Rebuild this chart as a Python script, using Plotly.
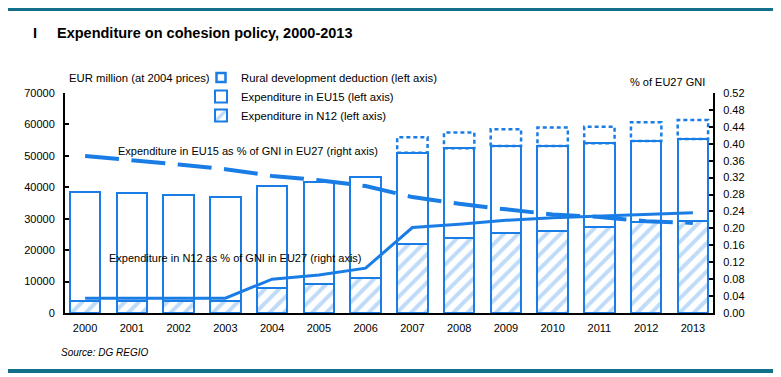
import plotly.graph_objects as go

years = ["2000", "2001", "2002", "2003", "2004", "2005", "2006",
         "2007", "2008", "2009", "2010", "2011", "2012", "2013"]
n12_exp = [3800, 3700, 3700, 3700, 8100, 9200, 11000,
           22000, 23800, 25300, 26100, 27300, 28900, 29300]
eu15_exp = [34800, 34600, 33900, 33300, 32300, 32500, 32400,
            29000, 28600, 27800, 27000, 26700, 25800, 26100]
rural_deduction = [0, 0, 0, 0, 0, 0, 0,
                   4900, 5000, 5400, 5900, 5300, 6000, 6000]
eu15_pct_gni = [0.371, 0.362, 0.351, 0.340, 0.324, 0.314, 0.300,
                0.274, 0.258, 0.245, 0.233, 0.227, 0.217, 0.213]
n12_pct_gni = [0.035, 0.035, 0.035, 0.035, 0.080, 0.090, 0.106,
               0.202, 0.210, 0.219, 0.225, 0.229, 0.233, 0.237]
left_ticks = [0, 10000, 20000, 30000, 40000, 50000, 60000, 70000]
right_ticks = [i * 0.04 for i in range(14)]

BLUE = "#1a7de6"
LIGHT = "#7fb8ef"
TEAL = "#13708a"
FONT = "Liberation Sans"
BW = 0.65

xpos = list(range(len(years)))

# the page body adds an 8px margin; lay out in page pixels and compensate
OFF = 8
FW, FH = 781 - OFF, 377 - OFF
L, R, T, B = 65, 713, 93, 313          # plot area in page pixels
W, H = R - L, B - T
def px(x):
    return (x - L) / W
def py(y):
    return (B - y) / H

fig = go.Figure()

fig.add_trace(go.Bar(
    x=xpos, y=n12_exp, name="Expenditure in N12 (left axis)", width=BW,
    marker=dict(color="white", line=dict(color=BLUE, width=2),
                pattern=dict(shape="/", fgcolor=LIGHT, bgcolor="white",
                             size=10, solidity=0.4)),
    legendrank=3, yaxis="y"))
fig.add_trace(go.Bar(
    x=xpos, y=eu15_exp, name="Expenditure in EU15 (left axis)", width=BW,
    marker=dict(color="white", line=dict(color=BLUE, width=2)),
    legendrank=2, yaxis="y"))
fig.add_trace(go.Bar(
    x=xpos, y=rural_deduction, name="Rural development deduction (left axis)",
    width=BW, marker=dict(color="rgba(255,255,255,0)", line=dict(width=0)),
    showlegend=False, yaxis="y"))

# dotted outline of the rural development deduction boxes
ox, oy = [], []
for i, r in enumerate(rural_deduction):
    if r <= 0:
        continue
    base = n12_exp[i] + eu15_exp[i]
    top = base + r
    ox += [xpos[i] - BW / 2, xpos[i] + BW / 2, xpos[i] + BW / 2,
           xpos[i] - BW / 2, xpos[i] - BW / 2, None]
    oy += [base, base, top, top, base, None]
fig.add_trace(go.Scatter(
    x=ox, y=oy, mode="lines", line=dict(color=BLUE, width=2.5, dash="4px,3px"),
    showlegend=False, hoverinfo="skip", yaxis="y"))
# legend entry for rural deduction
fig.add_trace(go.Scatter(
    x=[None], y=[None], mode="markers", name="Rural development deduction (left axis)",
    marker=dict(symbol="square-open", size=9, color=BLUE, line=dict(width=2.5)),
    legendrank=1, yaxis="y"))

fig.add_trace(go.Scatter(
    x=xpos, y=eu15_pct_gni, mode="lines", showlegend=False,
    line=dict(color=BLUE, width=4, dash="34px,12.5px"), yaxis="y2"))
fig.add_trace(go.Scatter(
    x=xpos, y=n12_pct_gni, mode="lines", showlegend=False,
    line=dict(color=BLUE, width=3), yaxis="y2"))

ann = [
    dict(text="I", x=px(31), y=py(33), xanchor="left", yanchor="middle",
         font=dict(size=14.5, family=FONT, color="black", weight="bold")),
    dict(text="Expenditure on cohesion policy, 2000-2013", x=px(55), y=py(33),
         xanchor="left", yanchor="middle",
         font=dict(size=14.5, family=FONT, color="black", weight="bold")),
    dict(text="EUR million (at 2004 prices)", x=px(67), y=py(78),
         xanchor="left", yanchor="middle", font=dict(size=11.3, family=FONT, color="black")),
    dict(text="% of EU27 GNI", x=px(707), y=py(82),
         xanchor="right", yanchor="middle", font=dict(size=11, family=FONT, color="black")),
    dict(text="Expenditure in EU15 as % of GNI in EU27 (right axis)", x=px(248), y=py(151),
         xanchor="center", yanchor="middle", font=dict(size=11, family=FONT, color="black")),
    dict(text="Expenditure in N12 as % of GNI in EU27 (right axis)", x=px(235), y=py(258),
         xanchor="center", yanchor="middle", font=dict(size=11, family=FONT, color="black")),
    dict(text="<i>Source: DG REGIO</i>", x=px(59), y=py(352),
         xanchor="left", yanchor="middle", font=dict(size=10, family=FONT, color="black")),
]
for a in ann:
    a.update(xref="paper", yref="paper", showarrow=False)

fig.update_layout(
    width=FW, height=FH,
    margin=dict(l=L - OFF, r=781 - R, t=T - OFF, b=377 - B, autoexpand=False),
    paper_bgcolor="white", plot_bgcolor="white",
    barmode="stack", bargap=0.35,
    font=dict(family=FONT, size=11, color="black"),
    showlegend=True,
    legend=dict(x=px(201), y=py(63), xanchor="left", yanchor="top",
                bgcolor="rgba(0,0,0,0)", font=dict(size=11.3, family=FONT),
                traceorder="normal", itemwidth=30, tracegroupgap=0),
    xaxis=dict(range=[-0.43, 13.43], tickvals=xpos, ticktext=years,
               showgrid=False, zeroline=False, showline=True, linecolor="black",
               linewidth=2, ticks="", tickfont=dict(size=11), ticklabelstandoff=4),
    yaxis=dict(range=[0, 70000], tickvals=left_ticks, tickformat="d",
               showgrid=False, zeroline=False,
               showline=True, linecolor="black", linewidth=2, ticks="inside",
               ticklen=4, tickwidth=2, tickcolor="black", tickfont=dict(size=11),
               ticklabelstandoff=6),
    yaxis2=dict(range=[0, 0.52], tickvals=right_ticks, tickformat=".2f",
                overlaying="y", side="right", showgrid=False, zeroline=False,
                showline=True, linecolor="black", linewidth=2, ticks="inside",
                ticklen=4, tickwidth=2, tickcolor="black", tickfont=dict(size=11),
                ticklabelstandoff=6),
    annotations=ann,
    shapes=[
        dict(type="line", xref="paper", yref="paper", x0=px(OFF), x1=px(781),
             y0=py(OFF + 1.5), y1=py(OFF + 1.5), line=dict(color=TEAL, width=3)),
        dict(type="line", xref="paper", yref="paper", x0=px(OFF), x1=px(781),
             y0=py(371), y1=py(371), line=dict(color=TEAL, width=4)),
    ],
)

fig.write_html("out.html")
